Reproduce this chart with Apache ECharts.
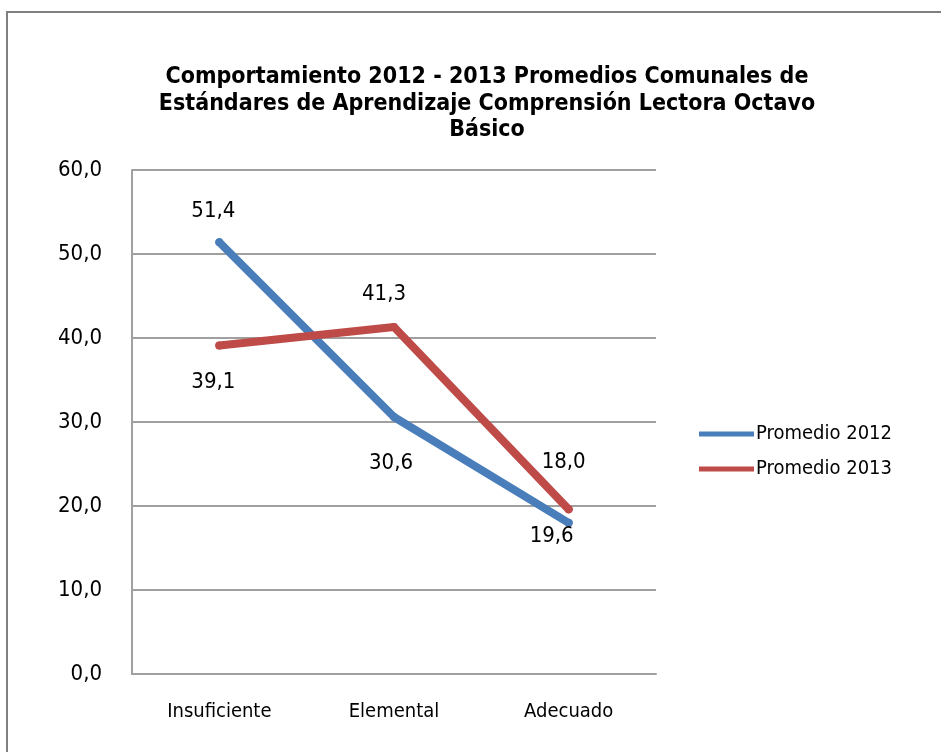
<!DOCTYPE html>
<html><head><meta charset="utf-8">
<script src="https://cdn.jsdelivr.net/npm/echarts@6/dist/echarts.min.js"></script>
<style>html,body{margin:0;padding:0;background:#fff}#c{width:941px;height:752px}</style>
</head><body><div id="c"></div>
<script>
var categories = ['Insuficiente', 'Elemental', 'Adecuado'];
var promedio2012 = [51.4, 30.6, 18.0];
var promedio2013 = [39.1, 41.3, 19.6];
var seriesNames = ['Promedio 2012', 'Promedio 2013'];
var yTicks = [0, 10, 20, 30, 40, 50, 60];

// label placement (style only)
var offsets2012 = [[-6, -31], [-3, 46], [-5, -61]];
var offsets2013 = [[-6, 37], [-10, -33], [-17, 27]];

var FONT = '"DejaVu Sans Condensed", "Liberation Sans Narrow", "Liberation Sans", Arial, sans-serif';
function fmt(v) { return v.toFixed(1).replace('.', ','); }
function build(vals, offs) {
  return vals.map(function (v, i) {
    return { value: v, label: { show: true, position: 'inside', offset: offs[i] } };
  });
}
var chart = echarts.init(document.getElementById('c'));
chart.setOption({
  animation: false,
  backgroundColor: '#fff',
  title: {
    text: 'Comportamiento 2012 - 2013 Promedios Comunales de\nEstándares de Aprendizaje Comprensión Lectora Octavo\nBásico',
    left: 482, top: 59, textAlign: 'center',
    textStyle: { fontFamily: FONT, fontWeight: 'bold', fontSize: 23, lineHeight: 26.5, color: '#000' }
  },
  graphic: [{ type: 'rect', shape: { x: 7, y: 12, width: 1000, height: 800 }, style: { fill: 'none', stroke: '#808080', lineWidth: 2 }, silent: true }],
  legend: {
    orient: 'vertical', left: 694, top: 419, itemWidth: 55, itemHeight: 5, itemGap: 15,
    icon: 'rect',
    textStyle: { fontFamily: FONT, fontSize: 20, color: '#000', padding: [0, 0, 0, -3] },
    data: seriesNames
  },
  grid: { left: 132, right: 285, top: 170, bottom: 78 },
  xAxis: {
    type: 'category', data: categories, boundaryGap: true,
    axisLine: { lineStyle: { color: '#a0a0a0', width: 2 } },
    axisTick: { show: false },
    axisLabel: { fontFamily: FONT, fontSize: 20, color: '#000', margin: 28 }
  },
  yAxis: {
    type: 'value', min: 0, max: 60, interval: 10,
    axisLine: { show: true, lineStyle: { color: '#a0a0a0', width: 2 } },
    axisTick: { show: false },
    splitLine: { lineStyle: { color: '#a0a0a0', width: 2 } },
    axisLabel: { fontFamily: FONT, fontSize: 22, color: '#000', margin: 30,
      formatter: function (v) { return yTicks.indexOf(v) >= 0 ? fmt(v) : ''; } }
  },
  series: [
    { name: seriesNames[0], type: 'line', data: build(promedio2012, offsets2012),
      symbol: 'circle', symbolSize: 8, color: '#4a7ebb',
      lineStyle: { width: 8, color: '#4a7ebb', cap: 'round', join: 'round' },
      itemStyle: { color: '#4a7ebb' },
      label: { fontFamily: FONT, fontSize: 22, color: '#000', formatter: function (p) { return fmt(p.value); } } },
    { name: seriesNames[1], type: 'line', data: build(promedio2013, offsets2013),
      symbol: 'circle', symbolSize: 8, color: '#be4b48',
      lineStyle: { width: 8, color: '#be4b48', cap: 'round', join: 'round' },
      itemStyle: { color: '#be4b48' },
      label: { fontFamily: FONT, fontSize: 22, color: '#000', formatter: function (p) { return fmt(p.value); } } }
  ]
});
</script></body></html>
